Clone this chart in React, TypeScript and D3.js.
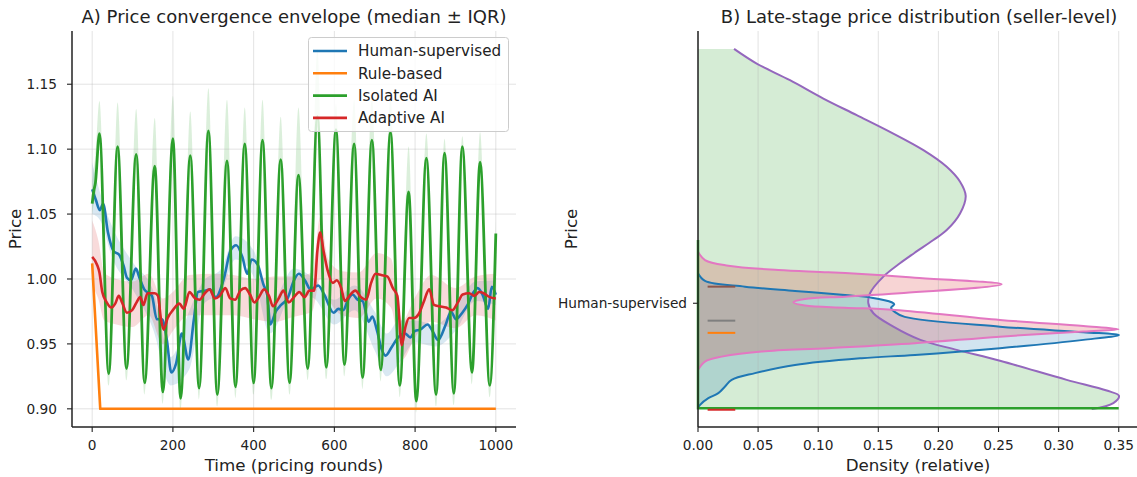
import React from "react";
import * as d3 from "d3";

const FONT = "'DejaVu Sans', sans-serif";
const INK = "#222222";

const BLUE = "#1f77b4";
const ORANGE = "#ff7f0e";
const GREEN = "#2ca02c";
const RED = "#d62728";
const PURPLE = "#9467bd";
const BROWN = "#8c564b";
const PINK = "#e377c2";
const GRAY = "#7f7f7f";

// ---------- panel A : median price per round ----------
const humanMedian: [number, number][] = [
  [0, 1.069], [9, 1.061], [19, 1.053], [27, 1.058], [39, 1.036], [54, 1.021], [66, 1.019],
  [78, 1.01], [86, 1.001], [96, 0.999], [108, 1.008], [117, 1.001], [129, 0.992], [148, 0.987],
  [160, 0.969], [173, 0.969], [185, 0.953], [196, 0.928], [208, 0.935], [222, 0.958], [238, 0.938],
  [252, 0.969], [262, 0.99], [280, 0.991], [292, 0.992], [306, 0.986], [326, 1.0], [343, 1.022],
  [357, 1.026], [372, 1.017], [384, 1.004], [395, 1.015], [410, 1.011], [424, 0.996], [434, 0.987],
  [441, 0.965], [455, 0.975], [468, 0.98], [484, 0.985], [500, 0.999], [512, 1.004], [527, 0.999],
  [541, 0.992], [560, 0.995], [575, 0.988], [598, 0.974], [610, 0.977], [622, 0.976], [634, 0.984],
  [645, 0.988], [658, 0.984], [670, 0.983], [685, 0.967], [694, 0.971], [705, 0.961], [717, 0.946],
  [727, 0.941], [741, 0.947], [758, 0.955], [775, 0.958], [788, 0.955], [800, 0.96], [813, 0.961],
  [831, 0.965], [843, 0.96], [857, 0.953], [876, 0.965], [889, 0.975], [901, 0.969], [917, 0.974],
  [930, 0.98], [945, 0.99], [955, 0.993], [967, 0.988], [981, 0.977], [990, 0.994], [1000, 0.988],
];
const humanIqr: [number, number, number][] = [
  [0, 1.05, 1.09], [20, 1.045, 1.066], [50, 1.016, 1.04], [100, 0.992, 1.013], [150, 0.962, 0.992],
  [195, 0.918, 0.94], [240, 0.93, 0.975], [275, 0.98, 0.998], [320, 0.99, 1.008], [355, 1.015, 1.033],
  [400, 1.002, 1.022], [440, 0.958, 0.98], [500, 0.99, 1.008], [550, 0.985, 1.0], [600, 0.965, 0.984],
  [650, 0.976, 0.995], [700, 0.945, 0.975], [730, 0.925, 0.958], [760, 0.935, 0.968], [800, 0.951, 0.968],
  [850, 0.948, 0.965], [900, 0.96, 0.978], [950, 0.983, 0.998], [1000, 0.98, 0.999],
];
const ruleMedian: [number, number][] = [[0, 1.012], [20, 0.9], [1000, 0.9]];
const isolatedMedian: [number, number][] = [
  [0, 1.058], [4, 1.068], [8, 1.074], [18, 1.112], [41, 0.927], [63, 1.102], [85, 0.931],
  [109, 1.096], [130, 0.92], [155, 1.087], [175, 0.913], [200, 1.108], [219, 0.908], [243, 1.095],
  [265, 0.916], [288, 1.114], [310, 0.911], [334, 1.091], [355, 0.917], [378, 1.104], [400, 0.92],
  [422, 1.107], [444, 0.916], [467, 1.092], [489, 0.92], [511, 1.08], [534, 0.931], [558, 1.125],
  [580, 0.932], [604, 1.115], [625, 0.934], [649, 1.104], [670, 0.924], [693, 1.107], [715, 0.93],
  [739, 1.113], [762, 0.918], [784, 1.067], [803, 0.906], [828, 1.093], [852, 0.911], [873, 1.097],
  [896, 0.912], [917, 1.102], [941, 0.928], [961, 1.09], [985, 0.918], [1000, 1.035],
];
const isolatedIqr: [number, number, number][] = [
  [0, 1.05, 1.075], [4, 1.058, 1.085], [8, 1.062, 1.095], [18, 1.104, 1.137], [41, 0.918, 0.933],
  [63, 1.094, 1.136], [85, 0.922, 0.937], [109, 1.088, 1.131], [130, 0.911, 0.926], [155, 1.079, 1.124],
  [175, 0.904, 0.919], [200, 1.1, 1.141], [219, 0.899, 0.914], [243, 1.087, 1.129], [265, 0.907, 0.922],
  [288, 1.106, 1.147], [310, 0.902, 0.917], [334, 1.083, 1.138], [355, 0.908, 0.923], [378, 1.096, 1.132],
  [400, 0.911, 0.926], [422, 1.099, 1.138], [444, 0.907, 0.922], [467, 1.084, 1.125], [489, 0.911, 0.926],
  [511, 1.072, 1.132], [534, 0.922, 0.937], [558, 1.117, 1.177], [580, 0.923, 0.938], [604, 1.107, 1.135],
  [625, 0.925, 0.94], [649, 1.096, 1.138], [670, 0.915, 0.93], [693, 1.099, 1.14], [715, 0.921, 0.936],
  [739, 1.105, 1.14], [762, 0.909, 0.924], [784, 1.059, 1.102], [803, 0.897, 0.912], [828, 1.085, 1.112],
  [852, 0.902, 0.917], [873, 1.089, 1.108], [896, 0.903, 0.918], [917, 1.094, 1.11], [941, 0.919, 0.934],
  [961, 1.082, 1.113], [985, 0.909, 0.924], [1000, 1.025, 1.045],
];
const adaptiveMedian: [number, number][] = [
  [0, 1.017], [12, 1.011], [18, 1.005], [25, 0.99], [36, 0.982], [48, 0.978], [57, 0.981], [66, 0.987],
  [74, 0.982], [86, 0.974], [99, 0.976], [110, 0.982], [119, 0.986], [127, 0.98], [137, 0.989],
  [155, 0.989], [163, 0.987], [170, 0.97], [177, 0.961], [187, 0.97], [200, 0.976], [216, 0.981],
  [227, 0.977], [241, 0.99], [255, 0.985], [266, 0.984], [279, 0.989], [291, 0.992], [304, 0.985],
  [316, 0.987], [330, 0.993], [342, 0.985], [354, 0.984], [367, 0.991], [379, 0.993], [391, 0.988],
  [402, 0.982], [413, 0.986], [426, 0.992], [438, 0.987], [448, 0.979], [462, 0.985], [474, 0.991],
  [487, 0.982], [500, 0.986], [513, 0.99], [526, 0.986], [538, 0.991], [550, 0.991], [558, 1.022],
  [565, 1.036], [573, 1.022], [583, 1.007], [596, 0.997], [606, 0.999], [617, 0.993], [626, 0.983],
  [637, 0.987], [652, 0.991], [666, 0.986], [679, 0.984], [691, 0.997], [702, 1.004], [716, 1.003],
  [731, 1.002], [745, 0.993], [756, 0.987], [767, 0.949], [776, 0.963], [785, 0.97], [797, 0.97],
  [809, 0.973], [821, 0.982], [835, 0.992], [847, 0.98], [860, 0.979], [877, 0.978], [892, 0.976],
  [906, 0.982], [918, 0.988], [934, 0.989], [947, 0.987], [959, 0.99], [970, 0.989], [985, 0.986],
  [1000, 0.985],
];
const adaptiveIqr: [number, number, number][] = [
  [0, 0.995, 1.045], [15, 0.985, 1.03], [30, 0.968, 1.005], [60, 0.965, 1.0], [100, 0.963, 0.998],
  [140, 0.972, 1.004], [175, 0.95, 0.985], [200, 0.96, 0.99], [240, 0.972, 1.003], [300, 0.972, 1.004],
  [350, 0.972, 1.003], [400, 0.969, 1.0], [450, 0.967, 1.002], [500, 0.971, 1.002], [545, 0.975, 1.005],
  [565, 1.0, 1.048], [585, 0.985, 1.015], [620, 0.972, 1.006], [660, 0.97, 1.005], [705, 0.985, 1.02],
  [740, 0.978, 1.016], [768, 0.938, 0.968], [800, 0.955, 0.986], [840, 0.967, 1.003], [900, 0.962, 0.993],
  [950, 0.972, 1.002], [1000, 0.968, 1.004],
];

const seriesNames = ["Human-supervised", "Rule-based", "Isolated AI", "Adaptive AI"];
const seriesColors = [BLUE, ORANGE, GREEN, RED];
const roundTicks = [0, 200, 400, 600, 800, 1000];
const priceTicks = [0.9, 0.95, 1.0, 1.05, 1.1, 1.15];

// ---------- panel B : late-stage densities, [density, price] ----------
const isolatedKde: [number, number][] = [
  [0.03, 1.1772], [0.0488, 1.1659], [0.0765, 1.1531], [0.1043, 1.139], [0.132, 1.1262], [0.1597, 1.1133],
  [0.1875, 1.0992], [0.2069, 1.0864], [0.218, 1.0749], [0.2227, 1.064], [0.218, 1.0505], [0.2069, 1.0377],
  [0.1958, 1.03], [0.18, 1.02], [0.168, 1.0121], [0.1542, 1.0018], [0.1431, 0.989], [0.1417, 0.9813],
  [0.1459, 0.9736], [0.1625, 0.9633], [0.185, 0.9531], [0.2152, 0.9454], [0.2512, 0.937], [0.3067, 0.9223],
  [0.34, 0.9141], [0.3502, 0.91], [0.3455, 0.9044], [0.3275, 0.8998],
];
const humanKde: [number, number][] = [
  [0, 1.0044], [0.0058, 0.9985], [0.0391, 0.9941], [0.0807, 0.9908], [0.1223, 0.9877], [0.1445, 0.9856],
  [0.1611, 0.9821], [0.1633, 0.9805], [0.1606, 0.9779], [0.1639, 0.9745], [0.172, 0.9708], [0.2512, 0.9633],
  [0.3206, 0.959], [0.3502, 0.9569], [0.3206, 0.9531], [0.2512, 0.9467], [0.1805, 0.9415], [0.1362, 0.939],
  [0.0807, 0.9338], [0.0474, 0.9275], [0.028, 0.9223], [0.0225, 0.9172], [0.0169, 0.9121], [0.0086, 0.9082],
  [0.0017, 0.9031], [0, 0.9005],
];
const adaptiveKde: [number, number][] = [
  [0, 1.021], [0.0058, 1.0146], [0.0252, 1.0102], [0.0668, 1.0069], [0.1084, 1.0052], [0.15, 1.0031],
  [0.1805, 1.001], [0.2526, 0.9959], [0.168, 0.989], [0.1223, 0.9864], [0.089, 0.9846], [0.0793, 0.9821],
  [0.089, 0.9795], [0.1223, 0.9779], [0.1639, 0.9762], [0.2512, 0.9685], [0.3206, 0.9638], [0.3497, 0.9613],
  [0.3206, 0.9595], [0.2512, 0.9556], [0.1805, 0.9505], [0.1084, 0.9467], [0.053, 0.9441], [0.0197, 0.9402],
  [0.0058, 0.9364], [0, 0.93],
];
const ruleSpike: [number, number][] = [[0, 1.03], [0, 0.9005], [0.35, 0.9005]];
const medianMarks = [
  { price: 0.9941, color: BROWN },
  { price: 0.9679, color: GRAY },
  { price: 0.9585, color: ORANGE },
  { price: 0.8993, color: RED },
];
const densityTicks = [0, 0.05, 0.1, 0.15, 0.2, 0.25, 0.3, 0.35];
const groupTick = { price: 0.9813, label: "Human-supervised" };

// ---------- layout ----------
const W = 1137;
const H = 477;
const TOP = 31;
const BOTTOM = 427;

const xA = d3.scaleLinear().domain([-50, 1050]).range([72, 516]);
const yP = d3.scaleLinear().domain([0.886, 1.191]).range([BOTTOM, TOP]);
const xB = d3.scaleLinear().domain([0, 0.3652]).range([698, 1137]);

export default function App() {
  const line = d3.line<[number, number]>().x(d => xA(d[0])).y(d => yP(d[1])).curve(d3.curveMonotoneX);
  const band = d3
    .area<[number, number, number]>()
    .x(d => xA(d[0]))
    .y0(d => yP(d[1]))
    .y1(d => yP(d[2]))
    .curve(d3.curveMonotoneX);
  const straight = d3.line<[number, number]>().x(d => xA(d[0])).y(d => yP(d[1]));

  const kde = d3
    .line<[number, number]>()
    .x(d => xB(d[0]))
    .y(d => yP(d[1]))
    .curve(d3.curveCatmullRom.alpha(0.5));
  const purplePath = kde(isolatedKde) || "";
  const first = isolatedKde[0];
  const last = isolatedKde[isolatedKde.length - 1];
  const greenFill = `M${xB(0)},${yP(first[1])}L${purplePath.slice(1)}L${xB(0)},${yP(last[1])}Z`;
  const spikePath = d3.line<[number, number]>().x(d => xB(d[0])).y(d => yP(d[1]))(ruleSpike) || "";

  const tickText = { fontFamily: FONT, fontSize: 13.7, fill: INK };
  const labelText = { fontFamily: FONT, fontSize: 16.7, fill: INK };

  return (
    <div style={{ position: "absolute", left: 0, top: 0 }}>
      <svg width={W} height={H} style={{ display: "block", background: "#fff" }}>
        {/* ===== Panel A ===== */}
        <g>
          <path d={band(humanIqr) || ""} fill={BLUE} fillOpacity={0.17} />
          <path d={band(isolatedIqr) || ""} fill={GREEN} fillOpacity={0.17} />
          <path d={band(adaptiveIqr) || ""} fill={RED} fillOpacity={0.17} />
          {roundTicks.map(t => (
            <line key={"gx" + t} x1={xA(t)} x2={xA(t)} y1={TOP} y2={BOTTOM} stroke="#b0b0b0" strokeOpacity={0.35} strokeWidth={1} />
          ))}
          {priceTicks.map(p => (
            <line key={"gy" + p} x1={72} x2={516} y1={yP(p)} y2={yP(p)} stroke="#b0b0b0" strokeOpacity={0.35} strokeWidth={1} />
          ))}
          <path d={line(humanMedian) || ""} fill="none" stroke={BLUE} strokeWidth={2.6} strokeLinejoin="round" />
          <path d={straight(ruleMedian) || ""} fill="none" stroke={ORANGE} strokeWidth={2.6} strokeLinejoin="round" />
          <path d={line(isolatedMedian) || ""} fill="none" stroke={GREEN} strokeWidth={2.8} strokeLinejoin="round" />
          <path d={line(adaptiveMedian) || ""} fill="none" stroke={RED} strokeWidth={2.6} strokeLinejoin="round" />

          {/* spines */}
          <line x1={72} x2={72} y1={TOP} y2={BOTTOM} stroke={INK} strokeWidth={1.5} />
          <line x1={72} x2={516} y1={BOTTOM} y2={BOTTOM} stroke={INK} strokeWidth={1.5} />
          {roundTicks.map(t => (
            <g key={"tx" + t}>
              <line x1={xA(t)} x2={xA(t)} y1={BOTTOM} y2={BOTTOM + 5} stroke={INK} strokeWidth={1.1} />
              <text x={xA(t)} y={449.5} textAnchor="middle" {...tickText}>{t}</text>
            </g>
          ))}
          {priceTicks.map(p => (
            <g key={"ty" + p}>
              <line x1={67} x2={72} y1={yP(p)} y2={yP(p)} stroke={INK} strokeWidth={1.1} />
              <text x={57} y={yP(p)} dy="0.36em" textAnchor="end" {...tickText}>{p.toFixed(2)}</text>
            </g>
          ))}
          <text x={294} y={470.5} textAnchor="middle" {...labelText}>Time (pricing rounds)</text>
          <text transform={`translate(21,229) rotate(-90)`} textAnchor="middle" {...labelText}>Price</text>
          <text x={294} y={23} textAnchor="middle" fontFamily={FONT} fontSize={18} fill={INK}>
            A) Price convergence envelope (median ± IQR)
          </text>

          {/* legend */}
          <rect x={308.5} y={37.5} width={200} height={94} rx={3} fill="#fff" fillOpacity={0.8} stroke="#cccccc" strokeWidth={1} />
          {seriesNames.map((name, i) => (
            <g key={name}>
              <line x1={313} x2={347} y1={51 + i * 22.3} y2={51 + i * 22.3} stroke={seriesColors[i]} strokeWidth={2.6} />
              <text x={358} y={51 + i * 22.3} dy="0.36em" fontFamily={FONT} fontSize={15.2} fill={INK}>{name}</text>
            </g>
          ))}
        </g>

        {/* ===== Panel B ===== */}
        <g>
          <path d={greenFill} fill={GREEN} fillOpacity={0.2} />
          <path d={(kde(humanKde) || "") + "Z"} fill={BLUE} fillOpacity={0.2} />
          <path d={(kde(adaptiveKde) || "") + "Z"} fill={RED} fillOpacity={0.2} />
          {densityTicks.map(t => (
            <line key={"gb" + t} x1={xB(t)} x2={xB(t)} y1={TOP} y2={BOTTOM} stroke="#b0b0b0" strokeOpacity={0.35} strokeWidth={1} />
          ))}
          <path d={purplePath} fill="none" stroke={PURPLE} strokeWidth={2} />
          <path d={kde(humanKde) || ""} fill="none" stroke={BLUE} strokeWidth={2} />
          <path d={kde(adaptiveKde) || ""} fill="none" stroke={PINK} strokeWidth={2} />
          <path d={spikePath} fill="none" stroke={GREEN} strokeWidth={2.5} />
          {medianMarks.map(m => (
            <line key={m.color} x1={xB(0.008)} x2={xB(0.031)} y1={yP(m.price)} y2={yP(m.price)} stroke={m.color} strokeWidth={2} />
          ))}

          <line x1={698} x2={698} y1={TOP} y2={BOTTOM} stroke={INK} strokeWidth={1.5} />
          <line x1={698} x2={1137} y1={BOTTOM} y2={BOTTOM} stroke={INK} strokeWidth={1.5} />
          {densityTicks.map(t => (
            <g key={"tb" + t}>
              <line x1={xB(t)} x2={xB(t)} y1={BOTTOM} y2={BOTTOM + 5} stroke={INK} strokeWidth={1.1} />
              <text x={xB(t)} y={449.5} textAnchor="middle" {...tickText}>{t.toFixed(2)}</text>
            </g>
          ))}
          <line x1={693} x2={698} y1={yP(groupTick.price)} y2={yP(groupTick.price)} stroke={INK} strokeWidth={1.1} />
          <text x={687} y={yP(groupTick.price)} dy="0.36em" textAnchor="end" {...tickText}>{groupTick.label}</text>
          <text x={918} y={470.5} textAnchor="middle" {...labelText}>Density (relative)</text>
          <text transform={`translate(577,229) rotate(-90)`} textAnchor="middle" {...labelText}>Price</text>
          <text x={919} y={23} textAnchor="middle" fontFamily={FONT} fontSize={18} fill={INK}>
            B) Late-stage price distribution (seller-level)
          </text>
        </g>
      </svg>
    </div>
  );
}
